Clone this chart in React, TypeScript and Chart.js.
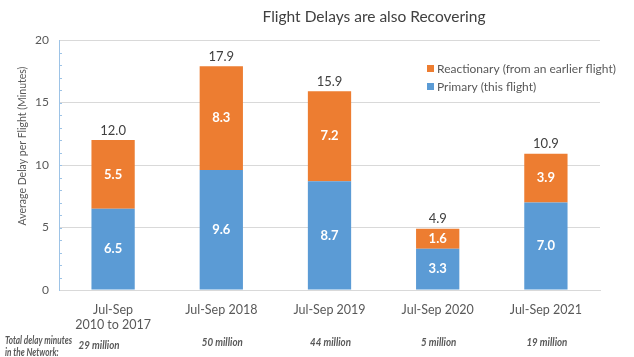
import React, { useEffect, useRef } from "react";
import { Chart, registerables } from "chart.js";

Chart.register(...registerables);

const chartTitle = "Flight Delays are also Recovering";
const yAxisTitle = "Average Delay per Flight (Minutes)";
const categories: (string | string[])[] = [
  ["Jul-Sep", "2010 to 2017"],
  "Jul-Sep 2018",
  "Jul-Sep 2019",
  "Jul-Sep 2020",
  "Jul-Sep 2021",
];
const primaryValues = [6.5, 9.6, 8.7, 3.3, 7.0];
const reactionaryValues = [5.5, 8.3, 7.2, 1.6, 3.9];
const totalValues = [12.0, 17.9, 15.9, 4.9, 10.9];
const networkLabel = ["Total delay minutes", "in the Network:"];
const networkTotals = ["29 million", "50 million", "44 million", "5 million", "19 million"];
const primaryLabel = "Primary (this flight)";
const reactionaryLabel = "Reactionary (from an earlier flight)";

const FONT = "Lato, 'Open Sans', sans-serif";
const BLUE = "#5B9BD5";
const ORANGE = "#ED7D31";
const GRAY = "#595959";
const DARK = "#404040";

function fillCondensed(ctx: CanvasRenderingContext2D, text: string, x: number, y: number, sx: number) {
  ctx.save();
  ctx.translate(x, y);
  ctx.scale(sx, 1);
  ctx.fillText(text, 0, 0);
  ctx.restore();
}

const overlay = {
  id: "overlay",
  afterDraw(chart: any) {
    const ctx = chart.ctx as CanvasRenderingContext2D;
    const yScale = chart.scales.y;
    const xScale = chart.scales.x;
    const area = chart.chartArea;
    ctx.save();

    // minor ticks on y axis
    ctx.strokeStyle = "#9DC3E6";
    ctx.lineWidth = 1;
    for (let v = 1; v < 20; v++) {
      const y = Math.round(yScale.getPixelForValue(v)) + 0.5;
      ctx.beginPath();
      ctx.moveTo(area.left, y);
      ctx.lineTo(area.left + 3, y);
      ctx.stroke();
    }

    // segment labels
    ctx.textAlign = "center";
    ctx.textBaseline = "middle";
    ctx.fillStyle = "#FFFFFF";
    ctx.font = `bold 13px ${FONT}`;
    [primaryValues, reactionaryValues].forEach((vals, di) => {
      const meta = chart.getDatasetMeta(di);
      meta.data.forEach((el: any, i: number) => {
        const cy = (el.y + el.base) / 2;
        ctx.fillText(vals[i].toFixed(1), el.x, cy);
      });
    });

    // totals
    ctx.fillStyle = DARK;
    ctx.font = `13px ${FONT}`;
    ctx.textBaseline = "bottom";
    const topMeta = chart.getDatasetMeta(1);
    topMeta.data.forEach((el: any, i: number) => {
      ctx.fillText(totalValues[i].toFixed(1), el.x, yScale.getPixelForValue(totalValues[i]) - 3);
    });

    // title
    ctx.font = `15.5px ${FONT}`;
    ctx.fillStyle = DARK;
    ctx.textBaseline = "middle";
    ctx.fillText(chartTitle, 374, 17);

    // y axis title
    ctx.save();
    ctx.translate(23, 146);
    ctx.rotate(-Math.PI / 2);
    ctx.font = `10.5px ${FONT}`;
    ctx.fillStyle = GRAY;
    ctx.fillText(yAxisTitle, 0, 0);
    ctx.restore();

    // legend
    ctx.font = `12px ${FONT}`;
    ctx.textAlign = "left";
    ctx.textBaseline = "middle";
    const legend = [
      { label: reactionaryLabel, color: ORANGE, y: 69 },
      { label: primaryLabel, color: BLUE, y: 87 },
    ];
    legend.forEach((l) => {
      ctx.fillStyle = l.color;
      ctx.fillRect(427, l.y - 4, 7, 7);
      ctx.fillStyle = GRAY;
      ctx.fillText(l.label, 437, l.y);
    });

    // network totals
    ctx.font = `italic bold 11px ${FONT}`;
    ctx.fillStyle = GRAY;
    ctx.textAlign = "left";
    const w0 = ctx.measureText(networkLabel[0]).width;
    const sx = Math.min(1, 67 / w0);
    fillCondensed(ctx, networkLabel[0], 5, 340, sx);
    fillCondensed(ctx, networkLabel[1], 5, 352, sx);
    ctx.textAlign = "center";
    const w1 = ctx.measureText(networkTotals[1]).width;
    const sx2 = Math.min(1, 41 / w1);
    networkTotals.forEach((t, i) => {
      const x = xScale.getPixelForValue(i) + (i === 0 ? -14 : 1);
      fillCondensed(ctx, t, x, i === 0 ? 345 : 342, sx2);
    });

    ctx.restore();
  },
};

export default function App() {
  const ref = useRef<HTMLCanvasElement>(null);
  useEffect(() => {
    if (!ref.current) return;
    const chart = new Chart(ref.current, {
      type: "bar",
      data: {
        labels: categories as any,
        datasets: [
          {
            label: primaryLabel,
            data: primaryValues,
            backgroundColor: BLUE,
            borderWidth: 0,
            barPercentage: 0.4,
            categoryPercentage: 1,
          },
          {
            label: reactionaryLabel,
            data: reactionaryValues,
            backgroundColor: ORANGE,
            borderWidth: 0,
            barPercentage: 0.4,
            categoryPercentage: 1,
          },
        ],
      },
      options: {
        animation: false,
        responsive: false,
        devicePixelRatio: 1,
        layout: { padding: { top: 40, right: 34, left: 0, bottom: 0 } },
        plugins: {
          legend: { display: false },
          title: { display: false },
          tooltip: { enabled: false },
        },
        scales: {
          x: {
            stacked: true,
            grid: { display: false, drawTicks: false },
            border: { display: true, color: "#D9D9D9" },
            ticks: {
              color: GRAY,
              font: { family: FONT, size: 12.5 },
              padding: 12,
              maxRotation: 0,
              autoSkip: false,
            },
            afterFit: (s: any) => {
              s.height = 67;
            },
          },
          y: {
            stacked: true,
            min: 0,
            max: 20,
            ticks: {
              stepSize: 5,
              color: GRAY,
              font: { family: FONT, size: 12 },
              padding: 10,
            },
            grid: { color: "#D9D9D9", drawTicks: false },
            border: { display: true, color: "#9DC3E6" },
            afterFit: (s: any) => {
              s.width = 59;
            },
          },
        },
      },
      plugins: [overlay],
    });
    return () => chart.destroy();
  }, []);
  return (
    <div style={{ position: "absolute", left: 0, top: 0, width: 634, height: 357, background: "#fff" }}>
      <canvas ref={ref} width={634} height={357} style={{ display: "block" }} />
    </div>
  );
}
